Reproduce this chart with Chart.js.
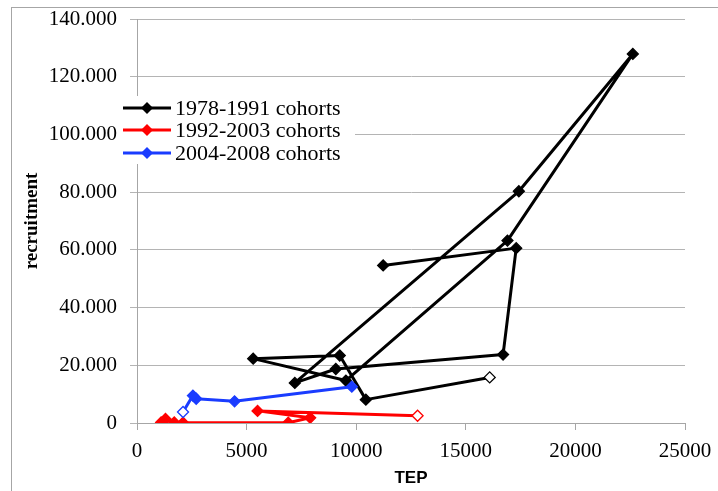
<!DOCTYPE html>
<html>
<head>
<meta charset="utf-8">
<script src="https://cdn.jsdelivr.net/npm/chart.js@4.4.0/dist/chart.umd.min.js"></script>
<style>
  body { margin: 0; background: #fff; }
  #wrap { position: relative; width: 718px; height: 491px; }
  #frame { position: absolute; left: 11px; top: 7px; width: 720px; height: 500px; border: 1px solid #a6a6a6; }
  #chart { position: absolute; left: 0; top: 0; }
</style>
</head>
<body>
<div id="wrap">
  <div id="frame"></div>
  <canvas id="chart" width="718" height="491"></canvas>
</div>
<script>
// 1978-1991 cohorts (path order, last point is the open marker)
const tep7891 = [11230, 17300, 16700, 9070, 7200, 17420, 22620, 16900, 9530, 5300, 9250, 10440, 16090];
const rec7891 = [54600, 60600, 23700, 18700, 13900, 80300, 127900, 63200, 14700, 22300, 23400, 8100, 15800];

// 1992-2003 cohorts
const tep9203 = [1100, 1300, 1700, 2100, 6900, 7900, 5500, 12800];
const rec9203 = [200, 1400, 200, 100, 100, 1800, 4200, 2500];

// 2004-2008 cohorts
const tep0408 = [9800, 4450, 2700, 2550, 2100];
const rec0408 = [12600, 7500, 8400, 9500, 3800];

const seriesNames = ['1978-1991 cohorts', '1992-2003 cohorts', '2004-2008 cohorts'];
const seriesColors = ['#000000', '#ff0000', '#1a3cff'];

const yTicks = [0, 20000, 40000, 60000, 80000, 100000, 120000, 140000];
const xTicks = [0, 5000, 10000, 15000, 20000, 25000];

function toPoints(xs, ys) {
  return xs.map((x, i) => ({ x: x, y: ys[i] }));
}

function fills(n, color) {
  // last point of each series is drawn hollow
  const arr = [];
  for (let i = 0; i < n; i++) arr.push(i === n - 1 ? '#ffffff' : color);
  return arr;
}

function makeSet(idx, xs, ys, order) {
  const c = seriesColors[idx];
  return {
    label: seriesNames[idx],
    data: toPoints(xs, ys),
    showLine: true,
    borderColor: c,
    borderWidth: 3,
    borderJoinStyle: 'round',
    tension: 0,
    pointStyle: 'rectRot',
    pointRadius: 5.5,
    pointBorderWidth: 1.3,
    pointBorderColor: c,
    pointBackgroundColor: fills(xs.length, c),
    order: order
  };
}

const insideLegend = {
  id: 'insideLegend',
  afterDraw(chart) {
    const ctx = chart.ctx;
    const rows = [108, 130, 153];
    ctx.save();
    ctx.fillStyle = '#ffffff';
    ctx.fillRect(121, 96, 234, 68);
    ctx.font = '22px "Liberation Serif", "Times New Roman", serif';
    ctx.textBaseline = 'middle';
    seriesNames.forEach((name, i) => {
      const y = rows[i];
      ctx.strokeStyle = seriesColors[i];
      ctx.lineWidth = 3;
      ctx.beginPath();
      ctx.moveTo(123, y);
      ctx.lineTo(171, y);
      ctx.stroke();
      ctx.fillStyle = seriesColors[i];
      ctx.beginPath();
      ctx.moveTo(147, y - 6);
      ctx.lineTo(153, y);
      ctx.lineTo(147, y + 6);
      ctx.lineTo(141, y);
      ctx.closePath();
      ctx.fill();
      ctx.fillStyle = '#000';
      ctx.fillText(name, 175, y + 1);
    });
    ctx.restore();
  }
};

Chart.defaults.font.family = '"Liberation Serif", "Times New Roman", serif';
Chart.defaults.color = '#000';

new Chart(document.getElementById('chart'), {
  type: 'scatter',
  data: {
    datasets: [
      makeSet(0, tep7891, rec7891, 2),
      makeSet(1, tep9203, rec9203, 1),
      makeSet(2, tep0408, rec0408, 0)
    ]
  },
  options: {
    responsive: false,
    animation: false,
    layout: { padding: { left: 0, top: 19, right: 33, bottom: 0 } },
    plugins: {
      legend: { display: false },
      tooltip: { enabled: false }
    },
    scales: {
      x: {
        type: 'linear',
        min: 0,
        max: 25000,
        afterBuildTicks: (scale) => { scale.ticks = xTicks.map(v => ({ value: v })); },
        afterFit: (scale) => {
          scale.height = 68;
          scale.paddingLeft = 0;
          scale.paddingRight = 0;
        },
        ticks: {
          font: { size: 21 },
          padding: 9,
          callback: (v) => String(v)
        },
        grid: { drawOnChartArea: false, drawTicks: true, tickLength: 7, color: '#a6a6a6' },
        border: { display: true, color: '#a6a6a6' },
        title: {
          display: true,
          text: 'TEP',
          font: { family: '"Liberation Sans", Arial, sans-serif', size: 17, weight: 'bold' },
          padding: { top: 0, bottom: 2 }
        }
      },
      y: {
        type: 'linear',
        min: 0,
        max: 140000,
        afterBuildTicks: (scale) => { scale.ticks = yTicks.map(v => ({ value: v })); },
        afterFit: (scale) => {
          scale.width = 137;
          scale.paddingTop = 0;
          scale.paddingBottom = 0;
        },
        ticks: {
          font: { size: 21 },
          padding: 13,
          callback: (v) => v === 0 ? '0' : (v / 1000).toFixed(3)
        },
        grid: { color: '#b4b4b4', lineWidth: 1, tickLength: 7 },
        border: { display: true, color: '#a6a6a6' },
        title: {
          display: true,
          text: 'recruitment',
          font: { size: 19, weight: 'bold' },
          padding: { top: 21, bottom: 0 }
        }
      }
    }
  },
  plugins: [insideLegend]
});
</script>
</body>
</html>
